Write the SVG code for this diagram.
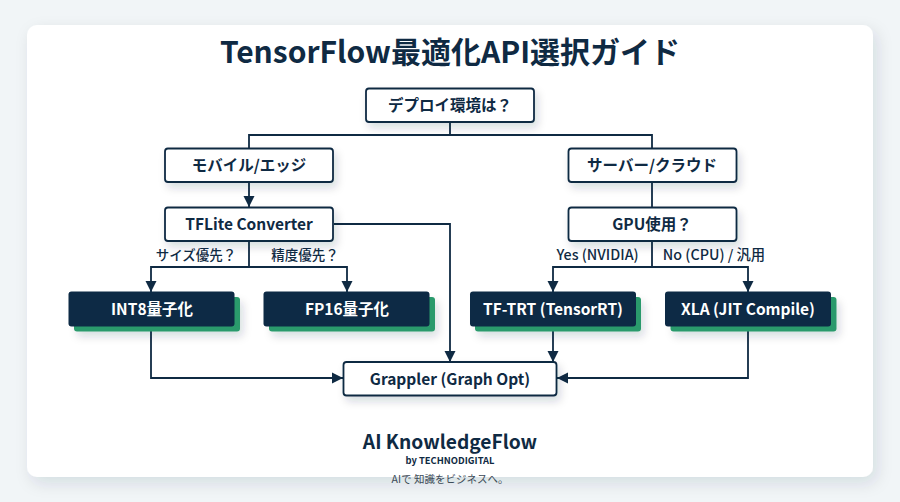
<svg xmlns="http://www.w3.org/2000/svg" width="900" height="502" viewBox="0 0 900 502">
<style>
text{font-family:"Noto Sans CJK JP","Noto Sans",sans-serif;text-anchor:middle;fill:#0f2a43}
.n{font-size:15.500px;font-weight:700}
.d{font-size:15.500px;font-weight:700;fill:#fff}
.l{font-size:13.500px;font-weight:500}
.y{font-size:14.300px;font-weight:500}
.w{fill:#fff;stroke:#0f2a43;stroke-width:1.800;filter:url(#s)}
.k{fill:#0d2a45}
.g{fill:#2a9a6c}
.c{fill:none;stroke:#0f2a43;stroke-width:1.800}
</style>
<defs>
<filter id="s" x="-20%" y="-40%" width="140%" height="190%"><feDropShadow dx="3" dy="5" stdDeviation="4" flood-color="#0f2a43" flood-opacity=".16"/></filter>
<filter id="cs" x="-5%" y="-5%" width="110%" height="112%"><feDropShadow dx="4" dy="6" stdDeviation="8" flood-color="#0f2a43" flood-opacity=".12"/></filter>
<marker id="a" markerUnits="userSpaceOnUse" markerWidth="12" markerHeight="12" refX="11" refY="6" orient="auto"><path d="M0 0.500L11 6L0 11.500Z" fill="#0f2a43"/></marker>
</defs>
<rect width="900" height="502" fill="#f1f5f7"/>
<rect x="27" y="25" width="846" height="452" rx="10" fill="#fff" filter="url(#cs)"/>
<text x="450" y="62.500" font-size="30" font-weight="700">TensorFlow最適化API選択ガイド</text>
<g id="connectors" class="c">
<path class="c" d="M450 122V135H249V148M450 135H652V148"/>
<path class="c" d="M249 182V207" marker-end="url(#a)"/>
<path class="c" d="M652 182V207"/>
<path class="c" d="M334 224H450V362" marker-end="url(#a)"/>
<path class="c" d="M249 241V267H151V292" marker-end="url(#a)"/>
<path class="c" d="M249 267H347V292" marker-end="url(#a)"/>
<path class="c" d="M652 241V267H553V292" marker-end="url(#a)"/>
<path class="c" d="M652 267H748V292" marker-end="url(#a)"/>
<path class="c" d="M151 331V378H343" marker-end="url(#a)"/>
<path class="c" d="M553 331V362" marker-end="url(#a)"/>
<path class="c" d="M748 331V378H557" marker-end="url(#a)"/>
</g>
<g id="root"><rect class="w" x="366" y="88.500" width="168" height="33.500" rx="3"/><text class="n" x="450" y="111">デプロイ環境は？</text></g>
<g id="mobile"><rect class="w" x="165" y="148.500" width="168" height="33.500" rx="3"/><text class="n" x="249" y="171">モバイル/エッジ</text></g>
<g id="server"><rect class="w" x="568.500" y="148.500" width="168" height="33.500" rx="3"/><text class="n" x="652" y="171">サーバー/クラウド</text></g>
<g id="tflite"><rect class="w" x="165" y="207.500" width="168" height="33.500" rx="3"/><text class="n" x="249" y="230">TFLite Converter</text></g>
<g id="gpu"><rect class="w" x="568.500" y="207.500" width="168" height="33.500" rx="3"/><text class="n" x="652" y="230">GPU使用？</text></g>
<g id="labels">
<text class="l" x="196" y="260">サイズ優先？</text>
<text class="l" x="305" y="260">精度優先？</text>
<text class="y" x="597.500" y="260">Yes (NVIDIA)</text>
<text class="y" x="714" y="260">No (CPU) / 汎用</text>
</g>
<g id="int8"><rect class="g" x="74" y="297" width="166" height="34.500" rx="3" filter="url(#s)"/><rect class="k" x="68.500" y="291.500" width="166" height="35" rx="3"/><text class="d" x="152" y="315">INT8量子化</text></g>
<g id="fp16"><rect class="g" x="269" y="297" width="166" height="34.500" rx="3" filter="url(#s)"/><rect class="k" x="263.500" y="291.500" width="166" height="35" rx="3"/><text class="d" x="347" y="315">FP16量子化</text></g>
<g id="tftrt"><rect class="g" x="475" y="297" width="166" height="34.500" rx="3" filter="url(#s)"/><rect class="k" x="470" y="291.500" width="166" height="35" rx="3"/><text class="d" x="553" y="315">TF-TRT (TensorRT)</text></g>
<g id="xla"><rect class="g" x="670.500" y="297" width="166" height="34.500" rx="3" filter="url(#s)"/><rect class="k" x="665" y="291.500" width="166" height="35" rx="3"/><text class="d" x="748" y="315">XLA (JIT Compile)</text></g>
<g id="grappler"><rect class="w" x="343.500" y="362" width="213" height="33.500" rx="3"/><text class="n" x="450" y="384.500">Grappler (Graph Opt)</text></g>
<g id="footer">
<text x="450" y="448.500" font-size="19.200" font-weight="700">AI KnowledgeFlow</text>
<text x="450" y="464" font-size="9.400" font-weight="700">by TECHNODIGITAL</text>
<text x="450" y="483" font-size="10.500" style="fill:#3c4a57">AIで 知識をビジネスへ。</text>
</g>
</svg>
